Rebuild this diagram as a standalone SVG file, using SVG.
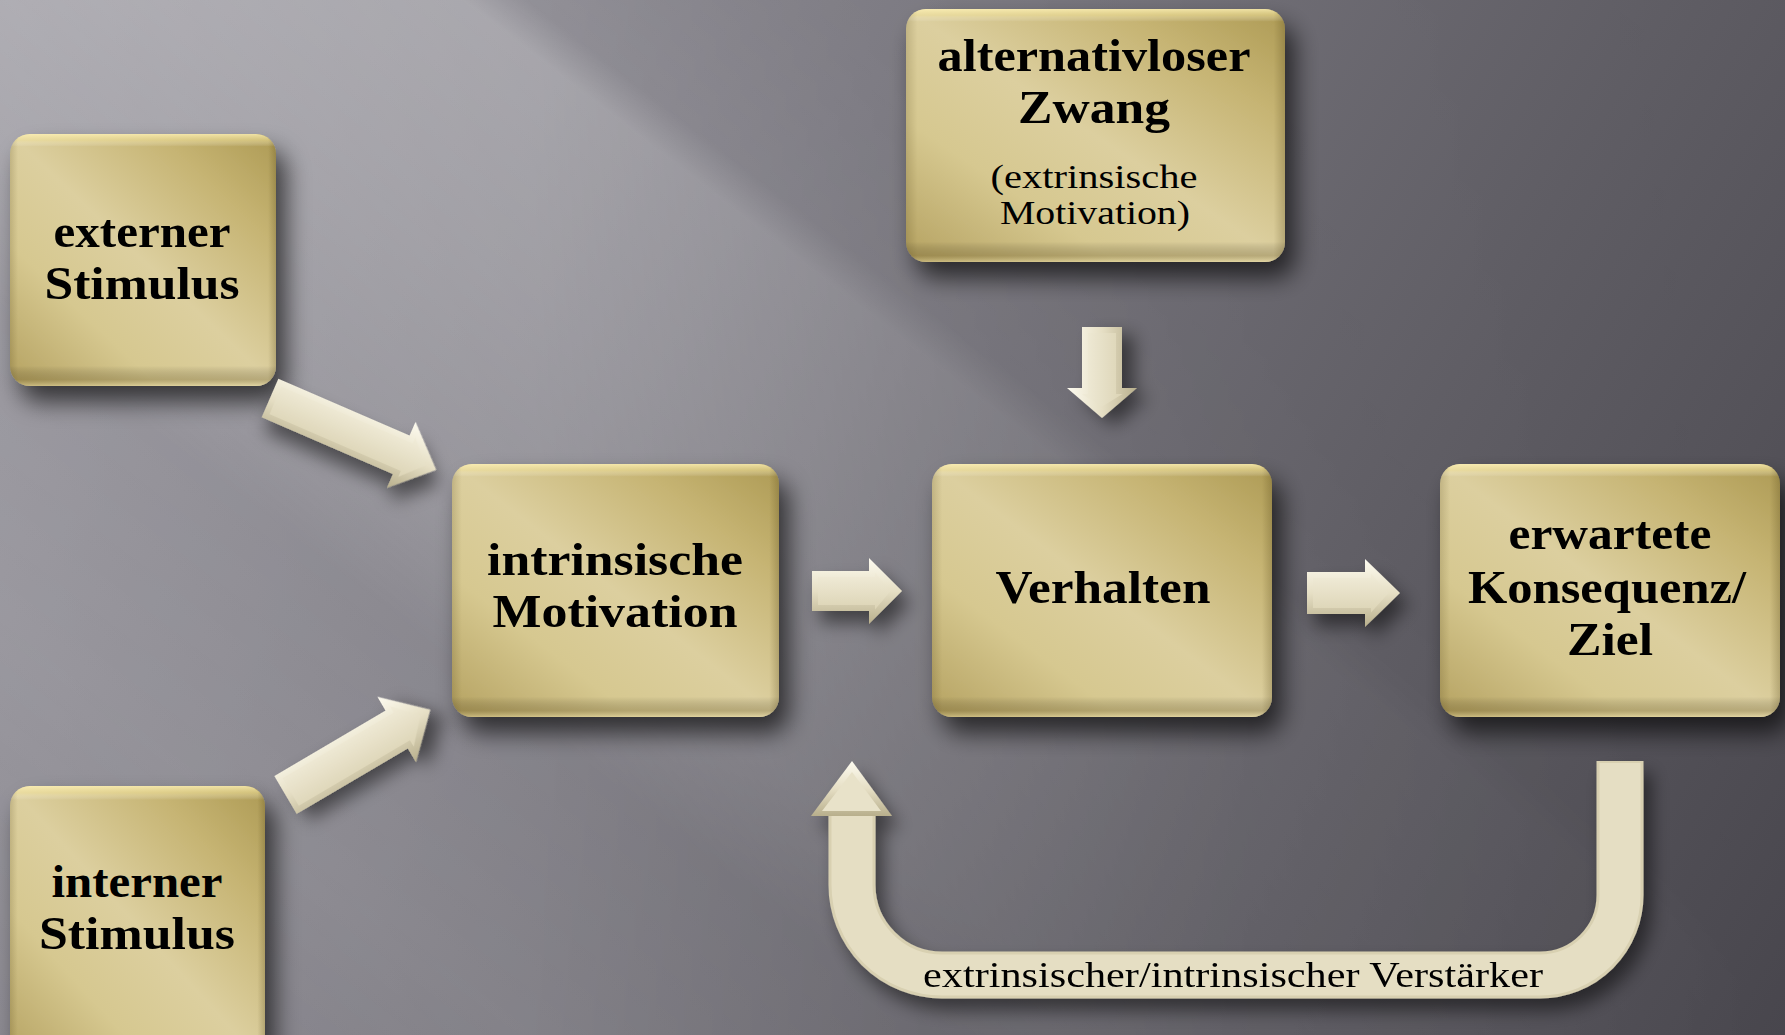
<svg xmlns="http://www.w3.org/2000/svg" width="1785" height="1035" viewBox="0 0 1785 1035">
<defs>
<style>
.b{font-family:"Liberation Serif","DejaVu Serif",serif;font-weight:bold;font-size:47px;fill:#000;text-anchor:middle}
.r{font-family:"Liberation Serif","DejaVu Serif",serif;font-weight:normal;font-size:34px;fill:#000;text-anchor:middle}
.box{fill:url(#gold)}
.bevV{fill:url(#bevV)}
.bevH{fill:url(#bevH)}
.aBase{fill:url(#aGrad)}
.aIn{fill:url(#aInner)}
</style>
<linearGradient id="bgBase" gradientUnits="userSpaceOnUse" x1="0" y1="0" x2="1785" y2="1035">
<stop offset="0" stop-color="#95939b"/>
<stop offset="0.35" stop-color="#7c7a82"/>
<stop offset="0.7" stop-color="#5f5d64"/>
<stop offset="1" stop-color="#48464d"/>
</linearGradient>
<linearGradient id="bgBand" gradientUnits="userSpaceOnUse" x1="-500" y1="648" x2="665" y2="-861">
<stop offset="0" stop-color="#fff" stop-opacity="0.08"/>
<stop offset="0.168" stop-color="#fff" stop-opacity="0.14"/>
<stop offset="0.3" stop-color="#fff" stop-opacity="0.11"/>
<stop offset="0.36" stop-color="#fff" stop-opacity="0.21"/>
<stop offset="0.482" stop-color="#fff" stop-opacity="0.28"/>
<stop offset="0.578" stop-color="#fff" stop-opacity="0.32"/>
<stop offset="0.598" stop-color="#fff" stop-opacity="0.12"/>
<stop offset="0.691" stop-color="#fff" stop-opacity="0.07"/>
<stop offset="1" stop-color="#fff" stop-opacity="0.03"/>
</linearGradient>
<linearGradient id="maskGrad" x1="0" y1="0" x2="1" y2="0">
<stop offset="0" stop-color="#fff"/>
<stop offset="0.3" stop-color="#e6e6e6"/>
<stop offset="0.5" stop-color="#808080"/>
<stop offset="0.7" stop-color="#303030"/>
<stop offset="1" stop-color="#000"/>
</linearGradient>
<mask id="bandMask" maskUnits="userSpaceOnUse" x="0" y="0" width="1785" height="1035">
<rect width="1785" height="1035" fill="url(#maskGrad)"/>
</mask>
<linearGradient id="gold" x1="1" y1="0" x2="0" y2="1">
<stop offset="0" stop-color="#ad9a54"/>
<stop offset="0.22" stop-color="#c6b473"/>
<stop offset="0.5" stop-color="#dccf9f"/>
<stop offset="0.72" stop-color="#d6c890"/>
<stop offset="1" stop-color="#b4a160"/>
</linearGradient>
<linearGradient id="bevV" x1="0" y1="0" x2="0" y2="1">
<stop offset="0" stop-color="#fff3b8" stop-opacity="0.8"/>
<stop offset="0.025" stop-color="#f5e6a0" stop-opacity="0.5"/>
<stop offset="0.05" stop-color="#ffffff" stop-opacity="0"/>
<stop offset="0.92" stop-color="#000" stop-opacity="0"/>
<stop offset="0.975" stop-color="#5a4a1c" stop-opacity="0.28"/>
<stop offset="1" stop-color="#f0e4b0" stop-opacity="0.35"/>
</linearGradient>
<linearGradient id="bevH" x1="0" y1="0" x2="1" y2="0">
<stop offset="0" stop-color="#4a3c10" stop-opacity="0.18"/>
<stop offset="0.03" stop-color="#4a3c10" stop-opacity="0"/>
<stop offset="0.97" stop-color="#4a3c10" stop-opacity="0"/>
<stop offset="1" stop-color="#4a3c10" stop-opacity="0.25"/>
</linearGradient>
<linearGradient id="aGrad" x1="0" y1="0" x2="0" y2="1">
<stop offset="0" stop-color="#fdfbf0"/>
<stop offset="0.5" stop-color="#e6dfc5"/>
<stop offset="1" stop-color="#b8af8c"/>
</linearGradient>
<linearGradient id="aInner" x1="0" y1="0" x2="0" y2="1">
<stop offset="0" stop-color="#f1ecd9"/>
<stop offset="1" stop-color="#dcd4b5"/>
</linearGradient>
<filter id="sh" x="-30%" y="-30%" width="170%" height="180%">
<feGaussianBlur in="SourceAlpha" stdDeviation="12"/>
<feOffset dx="10" dy="16"/>
<feComponentTransfer><feFuncA type="linear" slope="0.65"/></feComponentTransfer>
<feMerge><feMergeNode/><feMergeNode in="SourceGraphic"/></feMerge>
</filter>
<filter id="shA" x="-30%" y="-30%" width="170%" height="180%">
<feGaussianBlur in="SourceAlpha" stdDeviation="9"/>
<feOffset dx="8" dy="12"/>
<feComponentTransfer><feFuncA type="linear" slope="0.5"/></feComponentTransfer>
<feMerge><feMergeNode/><feMergeNode in="SourceGraphic"/></feMerge>
</filter>
</defs>

<g id="background">
<rect width="1785" height="1035" fill="url(#bgBase)"/>
<rect width="1785" height="1035" fill="url(#bgBand)" mask="url(#bandMask)"/>
</g>

<g id="n-externer">
<rect class="box" x="10" y="134" width="266" height="252" rx="20" filter="url(#sh)"/>
<rect class="bevV" x="10" y="134" width="266" height="252" rx="20"/>
<rect class="bevH" x="10" y="134" width="266" height="252" rx="20"/>
<text class="b" x="142" y="247" textLength="177" lengthAdjust="spacingAndGlyphs">externer</text>
<text class="b" x="142" y="299" textLength="195" lengthAdjust="spacingAndGlyphs">Stimulus</text>
</g>

<g id="n-interner">
<rect class="box" x="10" y="786" width="255" height="280" rx="20" filter="url(#sh)"/>
<rect class="bevV" x="10" y="786" width="255" height="280" rx="20"/>
<rect class="bevH" x="10" y="786" width="255" height="280" rx="20"/>
<text class="b" x="137" y="897" textLength="171" lengthAdjust="spacingAndGlyphs">interner</text>
<text class="b" x="137" y="949" textLength="196" lengthAdjust="spacingAndGlyphs">Stimulus</text>
</g>

<g id="n-zwang">
<rect class="box" x="906" y="9" width="379" height="253" rx="20" filter="url(#sh)"/>
<rect class="bevV" x="906" y="9" width="379" height="253" rx="20"/>
<rect class="bevH" x="906" y="9" width="379" height="253" rx="20"/>
<text class="b" x="1094" y="71" textLength="313" lengthAdjust="spacingAndGlyphs">alternativloser</text>
<text class="b" x="1094" y="123" textLength="152" lengthAdjust="spacingAndGlyphs">Zwang</text>
<text class="r" x="1094" y="188" textLength="207" lengthAdjust="spacingAndGlyphs">(extrinsische</text>
<text class="r" x="1095" y="224" textLength="190" lengthAdjust="spacingAndGlyphs">Motivation)</text>
</g>

<g id="n-intrinsisch">
<rect class="box" x="452" y="464" width="327" height="253" rx="20" filter="url(#sh)"/>
<rect class="bevV" x="452" y="464" width="327" height="253" rx="20"/>
<rect class="bevH" x="452" y="464" width="327" height="253" rx="20"/>
<text class="b" x="615" y="575" textLength="256" lengthAdjust="spacingAndGlyphs">intrinsische</text>
<text class="b" x="615" y="627" textLength="245" lengthAdjust="spacingAndGlyphs">Motivation</text>
</g>

<g id="n-verhalten">
<rect class="box" x="932" y="464" width="340" height="253" rx="20" filter="url(#sh)"/>
<rect class="bevV" x="932" y="464" width="340" height="253" rx="20"/>
<rect class="bevH" x="932" y="464" width="340" height="253" rx="20"/>
<text class="b" x="1103" y="603" textLength="215" lengthAdjust="spacingAndGlyphs">Verhalten</text>
</g>

<g id="n-ziel">
<rect class="box" x="1440" y="464" width="340" height="253" rx="20" filter="url(#sh)"/>
<rect class="bevV" x="1440" y="464" width="340" height="253" rx="20"/>
<rect class="bevH" x="1440" y="464" width="340" height="253" rx="20"/>
<text class="b" x="1610" y="549" textLength="203" lengthAdjust="spacingAndGlyphs">erwartete</text>
<text class="b" x="1607" y="603" textLength="278" lengthAdjust="spacingAndGlyphs">Konsequenz/</text>
<text class="b" x="1610" y="655" textLength="86" lengthAdjust="spacingAndGlyphs">Ziel</text>
</g>

<g id="connectors">
<g id="c-externer-intrinsisch" transform="translate(270,398) rotate(23.4)" filter="url(#shA)">
<polygon class="aBase" points="0,-21 143,-21 143,-36 181,0 143,36 143,21 0,21"/>
<polygon class="aIn" points="6,-15 149,-15 149,-21.6 169.6,0 149,21.6 149,15 6,15"/>
</g>
<g id="c-interner-intrinsisch" transform="translate(285.5,795) rotate(-30.5)" filter="url(#shA)">
<polygon class="aBase" points="0,-22 129,-22 129,-38 168,0 129,38 129,22 0,22"/>
<polygon class="aIn" points="6,-16 135,-16 135,-23.6 156.6,0 135,23.6 135,16 6,16"/>
</g>
<g id="c-intrinsisch-verhalten" transform="translate(812,591)" filter="url(#shA)">
<polygon class="aBase" points="0,-20 57,-20 57,-33 90,0 57,33 57,20 0,20"/>
<polygon class="aIn" points="6,-14 63,-14 63,-18.6 78.6,0 63,18.6 63,14 6,14"/>
</g>
<g id="c-verhalten-ziel" transform="translate(1307,593)" filter="url(#shA)">
<polygon class="aBase" points="0,-21 58,-21 58,-34 93,0 58,34 58,21 0,21"/>
<polygon class="aIn" points="6,-15 64,-15 64,-19.6 81.6,0 64,19.6 64,15 6,15"/>
</g>
<g id="c-zwang-verhalten" transform="translate(1102,327) rotate(90) scale(1,-1)" filter="url(#shA)">
<polygon class="aBase" points="0,-20 61,-20 61,-35 91,0 61,35 61,20 0,20"/>
<polygon class="aIn" points="6,-14 67,-14 67,-20.6 79.6,0 67,20.6 67,14 6,14"/>
</g>
<g id="c-ziel-verhalten" filter="url(#shA)">
<path d="M1620,761 V895 A80,80 0 0 1 1540,975 H942 A90,90 0 0 1 852,885 V812" fill="none" stroke="#d8d0b1" stroke-width="47"/>
<path d="M1620,763 V895 A80,80 0 0 1 1540,975 H942 A90,90 0 0 1 852,885 V812" fill="none" stroke="#e5dec3" stroke-width="41"/>
<polygon class="aBase" points="811,816 852,761 892,816"/>
<polygon points="822,811 852,772 881,811" fill="#e8e2c9"/>
<text class="r" x="1233" y="987" style="font-size:35px" textLength="620" lengthAdjust="spacingAndGlyphs">extrinsischer/intrinsischer Verstärker</text>
</g>
</g>
</svg>
